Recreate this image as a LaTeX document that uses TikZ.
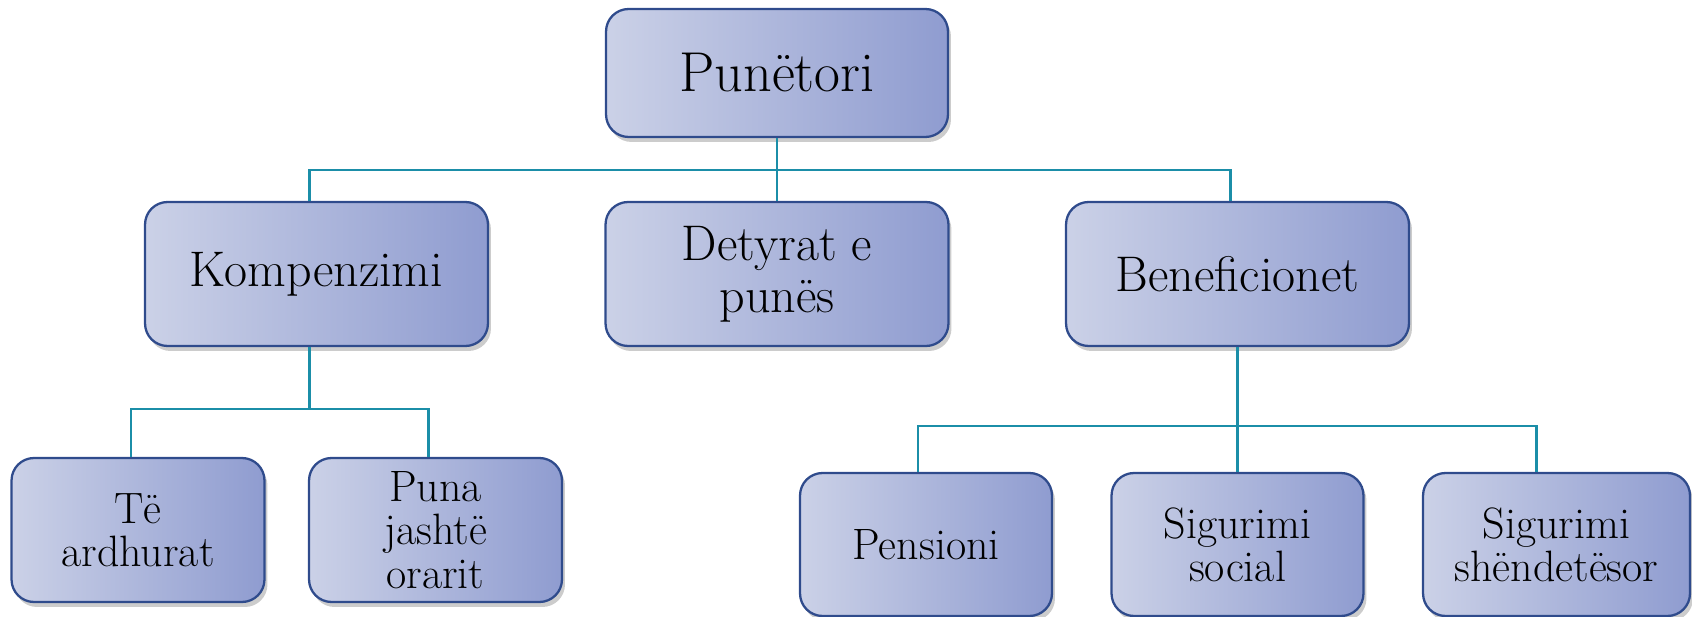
\documentclass[tikz,border=0pt]{standalone}
\usepackage{tikz}
\usetikzlibrary{shadows, calc, positioning}
\definecolor{boxL}{HTML}{CBD1E7}
\definecolor{boxR}{HTML}{8F9CD0}
\definecolor{bordo}{HTML}{2F4B8C}
\definecolor{linea}{HTML}{1B8EA8}
\tikzset{
    casella/.style = {draw=bordo, line width=1.3pt, rounded corners=0.45cm,
        left color=boxL, right color=boxR, align=center, inner sep=0pt,
        drop shadow={opacity=0.4, shadow xshift=0.06cm, shadow yshift=-0.1cm}},
    livelloa/.style = {minimum width=6.84cm, minimum height=2.56cm,
        font=\fontsize{32}{34}\selectfont},
    livellob/.style = {minimum width=6.86cm, minimum height=2.88cm,
        font=\fontsize{28.5}{29.5}\selectfont},
    livelloc/.style = {minimum width=5.06cm, minimum height=2.88cm,
        font=\fontsize{25}{24.6}\selectfont},
    livellod/.style = {minimum width=5.04cm, minimum height=2.86cm,
        font=\fontsize{25}{24.6}\selectfont},
    ramo/.style = {draw=linea, line width=1.4pt}
}

\begin{document}
\begin{tikzpicture}[x=0.02cm, y=-0.02cm]
    % Parametri
    \pgfmathsetmacro{\ya}{73}
    \pgfmathsetmacro{\yb}{274}
    \pgfmathsetmacro{\yc}{530}
    \pgfmathsetmacro{\yd}{544.5}
    % Cornice
    \useasboundingbox (0,0) rectangle (1692,617);
    % Livello 1
    \node[casella, livelloa] (punetori) at (777,\ya) {Punëtori};
    % Livello 2
    \node[casella, livellob] (kompenzimi) at (316.5,\yb) {Kompenzimi};
    \node[casella, livellob] (detyrat) at (777,\yb) {Detyrat e\\ punës};
    \node[casella, livellob] (beneficionet) at (1237.5,\yb) {Beneficionet};
    % Livello 3
    \node[casella, livelloc] (ardhurat) at (138,\yc) {Të\\ ardhurat};
    \node[casella, livelloc] (puna) at (435.5,\yc) {Puna\\ jashtë\\ orarit};
    \node[casella, livellod] (pensioni) at (926,\yd) {Pensioni};
    \node[casella, livellod] (social) at (1237.5,\yd) {Sigurimi\\ social};
    \node[casella, livellod, minimum width=5.34cm] (shendetesor) at (1556.5,\yd) {Sigurimi\\ shëndetësor};

    % Collegamenti
    \coordinate (sbarraA) at (777,170);
    \coordinate (sbarraB) at (309.5,409);
    \coordinate (sbarraC) at (1237.5,426);
    \draw[ramo] (punetori) -- (detyrat);
    \draw[ramo] ($(kompenzimi.north)+(-7,0)$) |- (sbarraA) -| ($(beneficionet.north)+(-7,0)$);
    \draw[ramo] ($(kompenzimi.south)+(-7,0)$) -- (sbarraB);
    \draw[ramo] ($(ardhurat.north)+(-7,0)$) |- (sbarraB) -| ($(puna.north)+(-7,0)$);
    \draw[ramo] (beneficionet) -- (social);
    \draw[ramo] ($(pensioni.north)+(-8,0)$) |- (sbarraC) -| ($(shendetesor.north)+(-20,0)$);
\end{tikzpicture}
\end{document}
